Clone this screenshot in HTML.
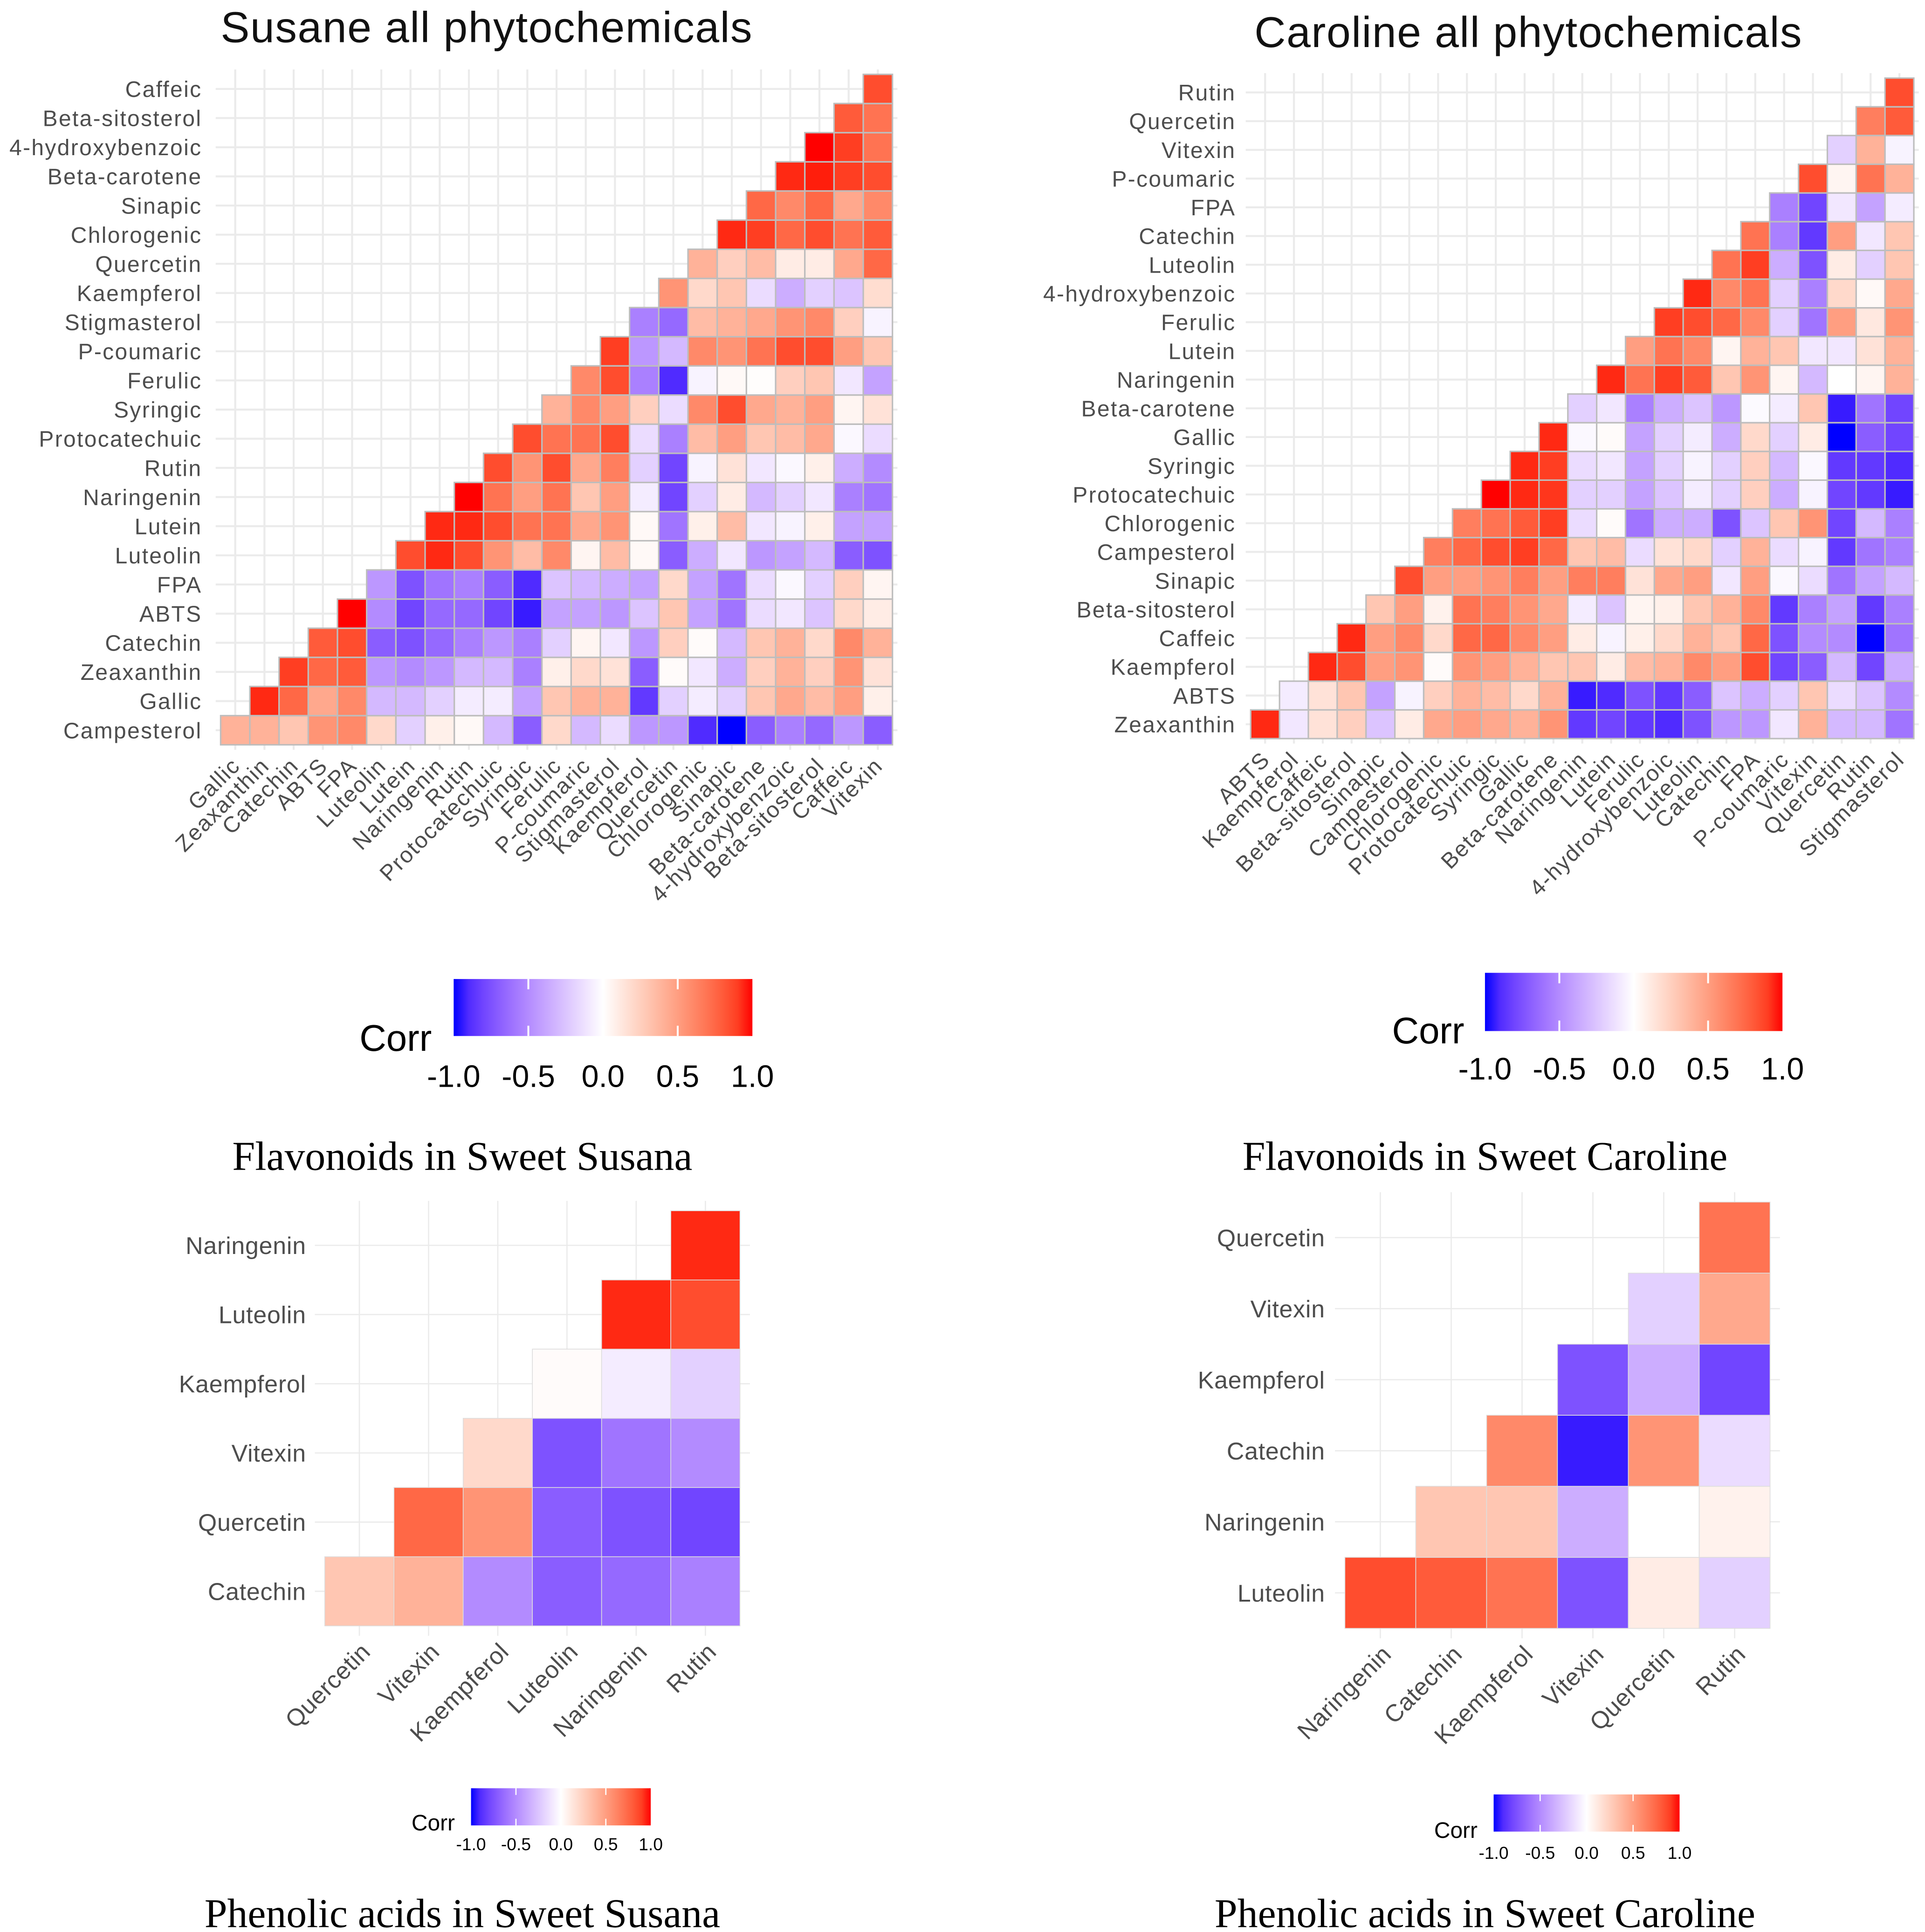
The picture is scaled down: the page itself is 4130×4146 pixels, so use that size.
<!DOCTYPE html>
<html><head><meta charset="utf-8"><style>
html,body{margin:0;padding:0;background:#fff;}
svg{display:block;}
text{font-family:"Liberation Sans",sans-serif;}
.serif{font-family:"Liberation Serif",serif;}
</style></head><body>
<svg id="root" xmlns="http://www.w3.org/2000/svg" width="4130" height="4146" viewBox="0 0 1553 1559">
<rect width="1553" height="1559" fill="#fff"/>
<text x="178" y="34" font-size="35" letter-spacing="0.6" fill="#111">Susane all phytochemicals</text>
<text x="1012" y="38" font-size="35" letter-spacing="0.6" fill="#111">Caroline all phytochemicals</text>
<text class="serif" x="373" y="944" font-size="33" text-anchor="middle" fill="#000">Flavonoids in Sweet Susana</text>
<text class="serif" x="1198" y="944" font-size="33" text-anchor="middle" fill="#000">Flavonoids in Sweet Caroline</text>
<text class="serif" x="373" y="1555" font-size="33" text-anchor="middle" fill="#000">Phenolic acids in Sweet Susana</text>
<text class="serif" x="1198" y="1555" font-size="33" text-anchor="middle" fill="#000">Phenolic acids in Sweet Caroline</text>
<defs>
<linearGradient id="cg" x1="0" x2="1" y1="0" y2="0"></linearGradient>
</defs>
</svg>
<script>
// ---------- data ----------
const susX = ["Gallic","Zeaxanthin","Catechin","ABTS","FPA","Luteolin","Lutein","Naringenin","Rutin","Protocatechuic","Syringic","Ferulic","P-coumaric","Stigmasterol","Kaempferol","Quercetin","Chlorogenic","Sinapic","Beta-carotene","4-hydroxybenzoic","Beta-sitosterol","Caffeic","Vitexin"];
const susY = ["Campesterol","Gallic","Zeaxanthin","Catechin","ABTS","FPA","Luteolin","Lutein","Naringenin","Rutin","Protocatechuic","Syringic","Ferulic","P-coumaric","Stigmasterol","Kaempferol","Quercetin","Chlorogenic","Sinapic","Beta-carotene","4-hydroxybenzoic","Beta-sitosterol","Caffeic"];
const susVals = [
[0.4,0.4,0.3,0.55,0.6,0.2,-0.2,0.08,0.03,-0.3,-0.7,0.2,-0.3,-0.15,-0.45,-0.45,-0.9,-1.0,-0.7,-0.55,-0.65,-0.45,-0.7],
[0.95,0.75,0.45,0.6,-0.3,-0.3,-0.2,-0.08,-0.08,-0.4,0.3,0.4,0.4,-0.85,-0.2,-0.08,-0.2,0.3,0.45,0.35,0.5,0.08],
[0.9,0.75,0.8,-0.45,-0.5,-0.45,-0.3,-0.3,-0.55,0.08,0.2,0.15,-0.7,0.02,-0.1,-0.35,0.25,0.4,0.25,0.55,0.15],
[0.8,0.85,-0.7,-0.75,-0.65,-0.55,-0.45,-0.55,-0.2,0.05,-0.1,-0.45,0.25,0.02,-0.3,0.3,0.4,0.2,0.6,0.4],
[1.0,-0.5,-0.8,-0.65,-0.65,-0.8,-0.95,-0.4,-0.4,-0.45,-0.25,0.3,-0.4,-0.6,-0.15,-0.1,-0.25,0.2,0.1],
[-0.45,-0.75,-0.6,-0.55,-0.7,-0.9,-0.25,-0.3,-0.35,-0.4,0.2,-0.4,-0.6,-0.15,-0.03,-0.2,0.25,0.05],
[0.85,0.95,0.85,0.55,0.35,0.6,0.05,0.35,0.03,-0.7,-0.35,-0.1,-0.45,-0.4,-0.3,-0.7,-0.75],
[0.95,0.95,0.85,0.7,0.7,0.45,0.55,0.03,-0.6,0.08,0.35,-0.1,-0.05,0.08,-0.4,-0.4],
[1.0,0.7,0.5,0.7,0.3,0.5,-0.08,-0.8,-0.2,0.1,-0.3,-0.2,-0.1,-0.55,-0.6],
[0.85,0.55,0.85,0.45,0.65,-0.2,-0.8,-0.05,0.15,-0.1,-0.03,0.08,-0.35,-0.5],
[0.85,0.7,0.7,0.85,-0.15,-0.55,0.35,0.5,0.3,0.35,0.45,-0.03,-0.15],
[0.4,0.6,0.5,0.25,-0.15,0.6,0.85,0.45,0.4,0.5,0.05,0.15],
[0.6,0.85,-0.55,-0.9,-0.05,0.03,0.01,0.25,0.3,-0.1,-0.4],
[0.9,-0.45,-0.3,0.6,0.55,0.7,0.85,0.85,0.5,0.3],
[-0.55,-0.65,0.35,0.4,0.45,0.55,0.6,0.25,-0.05],
[0.55,0.2,0.3,-0.15,-0.35,-0.2,-0.25,0.18],
[0.4,0.25,0.35,0.1,0.1,0.45,0.75],
[0.95,0.9,0.75,0.85,0.7,0.8],
[0.75,0.6,0.75,0.45,0.6],
[0.95,0.97,0.9,0.85],
[1.0,0.9,0.7],
[0.8,0.7],
[0.85]
];
const carX = ["ABTS","Kaempferol","Caffeic","Beta-sitosterol","Sinapic","Campesterol","Chlorogenic","Protocatechuic","Syringic","Gallic","Beta-carotene","Naringenin","Lutein","Ferulic","4-hydroxybenzoic","Luteolin","Catechin","FPA","P-coumaric","Vitexin","Quercetin","Rutin","Stigmasterol"];
const carY = ["Zeaxanthin","ABTS","Kaempferol","Caffeic","Beta-sitosterol","Sinapic","Campesterol","Chlorogenic","Protocatechuic","Syringic","Gallic","Beta-carotene","Naringenin","Lutein","Ferulic","4-hydroxybenzoic","Luteolin","Catechin","FPA","P-coumaric","Vitexin","Quercetin","Rutin"];
const carVals = [
[0.95,-0.1,0.15,0.25,-0.25,0.1,0.45,0.5,0.45,0.4,0.55,-0.85,-0.8,-0.85,-0.9,-0.75,-0.45,-0.45,-0.1,0.4,-0.3,-0.3,-0.6],
[-0.08,0.15,0.3,-0.4,-0.05,0.25,0.4,0.35,0.2,0.4,-0.95,-0.9,-0.75,-0.85,-0.7,-0.25,-0.35,-0.2,0.3,-0.15,-0.25,-0.5],
[0.95,0.85,0.5,0.55,0.02,0.55,0.5,0.4,0.3,0.3,0.1,0.35,0.4,0.6,0.5,0.85,-0.8,-0.7,-0.3,-0.8,-0.35],
[0.95,0.5,0.6,0.2,0.75,0.75,0.6,0.5,0.1,-0.05,0.08,0.2,0.4,0.3,0.75,-0.75,-0.5,-0.5,-1.0,-0.6],
[0.3,0.5,0.07,0.7,0.65,0.55,0.45,-0.08,-0.25,0.05,0.08,0.3,0.4,0.6,-0.85,-0.55,-0.4,-0.85,-0.55],
[0.85,0.5,0.5,0.55,0.65,0.5,0.65,0.65,0.15,0.45,0.5,-0.1,0.5,-0.03,-0.15,-0.6,-0.4,-0.3],
[0.65,0.75,0.85,0.9,0.75,0.3,0.35,-0.15,0.15,0.2,-0.2,0.4,-0.15,-0.05,-0.85,-0.6,-0.55],
[0.65,0.7,0.8,0.9,-0.15,0.02,-0.6,-0.35,-0.35,-0.75,-0.25,0.3,0.55,-0.8,-0.3,-0.55],
[1.0,0.95,0.92,-0.2,-0.2,-0.4,-0.25,-0.08,-0.2,0.25,-0.35,-0.05,-0.8,-0.85,-0.95],
[0.95,0.9,-0.15,-0.1,-0.4,-0.2,-0.05,-0.2,0.25,-0.3,-0.03,-0.85,-0.85,-0.9],
[0.95,-0.03,0.02,-0.4,-0.2,-0.08,-0.35,0.2,-0.2,0.1,-1.0,-0.7,-0.8],
[-0.2,-0.1,-0.55,-0.35,-0.25,-0.45,-0.02,-0.08,0.3,-0.95,-0.6,-0.8],
[0.95,0.7,0.9,0.8,0.3,0.55,0.05,-0.3,0.0,0.05,0.4],
[0.5,0.7,0.6,0.05,0.4,0.3,-0.1,-0.1,0.15,0.4],
[0.9,0.85,0.75,0.6,-0.2,-0.6,0.5,0.12,0.55],
[0.95,0.6,0.7,-0.2,-0.55,0.2,0.03,0.45],
[0.7,0.9,-0.35,-0.75,0.1,-0.2,0.3],
[0.7,-0.55,-0.85,0.5,-0.1,0.3],
[-0.55,-0.8,-0.1,-0.4,-0.08],
[0.85,0.05,0.7,0.4],
[-0.2,0.4,-0.05],
[0.65,0.8],
[0.85]
];
const flavSusX = ["Quercetin","Vitexin","Kaempferol","Luteolin","Naringenin","Rutin"];
const flavSusY = ["Catechin","Quercetin","Vitexin","Kaempferol","Luteolin","Naringenin"];
const flavSusVals = [
[0.3,0.4,-0.5,-0.7,-0.65,-0.55],
[0.75,0.55,-0.7,-0.75,-0.8],
[0.2,-0.75,-0.6,-0.5],
[0.02,-0.08,-0.2],
[0.95,0.85],
[0.95]
];
const flavCarX = ["Naringenin","Catechin","Kaempferol","Vitexin","Quercetin","Rutin"];
const flavCarY = ["Luteolin","Naringenin","Catechin","Kaempferol","Vitexin","Quercetin"];
const flavCarVals = [
[0.85,0.8,0.7,-0.75,0.1,-0.2],
[0.3,0.3,-0.35,0.0,0.07],
[0.6,-0.95,0.55,-0.15],
[-0.75,-0.35,-0.8],
[-0.2,0.45],
[0.7]
];
const legendTicks = [-1.0,-0.5,0.0,0.5,1.0];
const legendTickLabels = ["-1.0","-0.5","0.0","0.5","1.0"];

// ---------- color (Lab interpolation blue-white-red) ----------
function lin(c){c/=255;return c<=0.04045?c/12.92:Math.pow((c+0.055)/1.055,2.4);}
function unlin(c){c=c<=0.0031308?12.92*c:1.055*Math.pow(c,1/2.4)-0.055;return Math.max(0,Math.min(255,Math.round(c*255)));}
function toLab(r,g,b){r=lin(r);g=lin(g);b=lin(b);
 let X=(r*0.4124+g*0.3576+b*0.1805)/0.95047,Y=(r*0.2126+g*0.7152+b*0.0722),Z=(r*0.0193+g*0.1192+b*0.9505)/1.08883;
 const f=t=>t>0.008856?Math.cbrt(t):7.787*t+16/116;
 return [116*f(Y)-16,500*(f(X)-f(Y)),200*(f(Y)-f(Z))];}
function fromLab(L,a,bb){let fy=(L+16)/116,fx=fy+a/500,fz=fy-bb/200;
 const fi=t=>t*t*t>0.008856?t*t*t:(t-16/116)/7.787;
 let X=fi(fx)*0.95047,Y=fi(fy),Z=fi(fz)*1.08883;
 let r=X*3.2406+Y*-1.5372+Z*-0.4986,g=X*-0.9689+Y*1.8758+Z*0.0415,b=X*0.0557+Y*-0.2040+Z*1.0570;
 return "rgb("+unlin(r)+","+unlin(g)+","+unlin(b)+")";}
const LB=toLab(0,0,255),LW=toLab(255,255,255),LR=toLab(255,0,0);
function col(v){v=Math.max(-1,Math.min(1,v));const a=LW,b=v<0?LB:LR,t=Math.abs(v);
 return fromLab(a[0]+(b[0]-a[0])*t,a[1]+(b[1]-a[1])*t,a[2]+(b[2]-a[2])*t);}

const grad=document.getElementById('cg');
for(let i=0;i<=20;i++){const s=document.createElementNS("http://www.w3.org/2000/svg","stop");
 s.setAttribute('offset',(i/20));s.setAttribute('stop-color',col(-1+i/10));grad.appendChild(s);}

const NS="http://www.w3.org/2000/svg",root=document.getElementById('root');
function mk(tag,attrs,parent){const e=document.createElementNS(NS,tag);for(const k in attrs)e.setAttribute(k,attrs[k]);(parent||root).appendChild(e);return e;}

function heat(c){
 const g=mk('g',{});
 
 
 const n=c.xs.length,cw=(c.x1-c.x0)/n,ch=(c.yB-c.yT)/n;
 const xc=j=>c.x0+(j+0.5)*cw, yc=i=>c.yB-(i+0.5)*ch;
 for(let j=0;j<n;j++){const l=mk('line',{x1:xc(j),x2:xc(j),y1:c.yT-c.pad,y2:c.yB+c.pad,stroke:'#ebebeb','stroke-width':c.gw},g);
  
  }
 for(let i=0;i<n;i++){const l=mk('line',{x1:c.x0-c.pad,x2:c.x1+c.pad,y1:yc(i),y2:yc(i),stroke:'#ebebeb','stroke-width':c.gw},g);
  
  }
 c.vals.forEach((row,i)=>{row.forEach((v,k)=>{const j=i+k;
  const r=mk('rect',{x:xc(j)-cw/2,y:yc(i)-ch/2,width:cw,height:ch,fill:col(v),stroke:c.stroke,'stroke-width':c.sw},g);
  
  
 });});
 c.ys.forEach((s,i)=>{const t=mk('text',{x:c.x0-c.lgap,y:yc(i)+c.fs*0.36,'font-size':c.fs,'letter-spacing':c.ls,'text-anchor':'end',fill:'#4d4d4d'},g);t.textContent=s;
  
  });
 c.xs.forEach((s,j)=>{const x=xc(j)+c.xo,y=c.yB+c.yo;const t=mk('text',{x:x,y:y,'font-size':c.fs,'letter-spacing':c.ls,'text-anchor':'end',fill:'#4d4d4d',transform:'rotate(-45 '+x+' '+y+')'},g);t.textContent=s;
  
  });
}
function legend(L){
 const g=mk('g',{});
 
 
 mk('rect',{x:L.x0,y:L.y0,width:L.x1-L.x0,height:L.h,fill:'url(#cg)'},g);
 legendTicks.forEach((v,i)=>{const x=L.x0+(v+1)/2*(L.x1-L.x0);
  if(i>0&&i<4){mk('line',{x1:x,x2:x,y1:L.y0,y2:L.y0+L.h*0.18,stroke:'#fff','stroke-width':L.tw},g);
   mk('line',{x1:x,x2:x,y1:L.y0+L.h*0.82,y2:L.y0+L.h,stroke:'#fff','stroke-width':L.tw},g);}
  const t=mk('text',{x:x,y:L.ly,'font-size':L.fs,'text-anchor':'middle',fill:'#000'},g);t.textContent=legendTickLabels[i];
  
  });
 const t=mk('text',{x:L.cx,y:L.cy,'font-size':L.cfs,fill:'#000'},g);t.textContent='Corr';
 
 
}
heat({name:'susane-heatmap',xs:susX,ys:susY,vals:susVals,x0:178,x1:720,yT:60,yB:601,pad:4,gw:1.6,stroke:'#bdbdbd',sw:1.2,fs:18,ls:0.9,lgap:15,xo:5,yo:18});
heat({name:'caroline-heatmap',xs:carX,ys:carY,vals:carVals,x0:1009,x1:1544,yT:63,yB:596,pad:4,gw:1.6,stroke:'#bdbdbd',sw:1.2,fs:18,ls:0.9,lgap:12,xo:5,yo:18});
heat({name:'flavonoids-susana-heatmap',xs:flavSusX,ys:flavSusY,vals:flavSusVals,x0:262,x1:597,yT:977,yB:1312,pad:8,gw:1,stroke:'#dddddd',sw:0.6,fs:19.5,ls:0.3,lgap:15,xo:10,yo:22});
heat({name:'flavonoids-caroline-heatmap',xs:flavCarX,ys:flavCarY,vals:flavCarVals,x0:1085,x1:1428,yT:970,yB:1314,pad:8,gw:1,stroke:'#dddddd',sw:0.6,fs:19.5,ls:0.3,lgap:16,xo:10,yo:22});
legend({name:'susane-legend',x0:366,x1:607,y0:790,h:46,tw:1.5,ly:877,fs:25,cx:290,cy:848,cfs:30});
legend({name:'caroline-legend',x0:1198,x1:1438,y0:785,h:47,tw:1.5,ly:871,fs:25,cx:1123,cy:842,cfs:30});
legend({name:'flavonoids-susana-legend',x0:380,x1:525,y0:1443,h:30,tw:1,ly:1493,fs:14,cx:332,cy:1477,cfs:18});
legend({name:'flavonoids-caroline-legend',x0:1205,x1:1355,y0:1448,h:30,tw:1,ly:1500,fs:14,cx:1157,cy:1483,cfs:18});
</script>
</body></html>
